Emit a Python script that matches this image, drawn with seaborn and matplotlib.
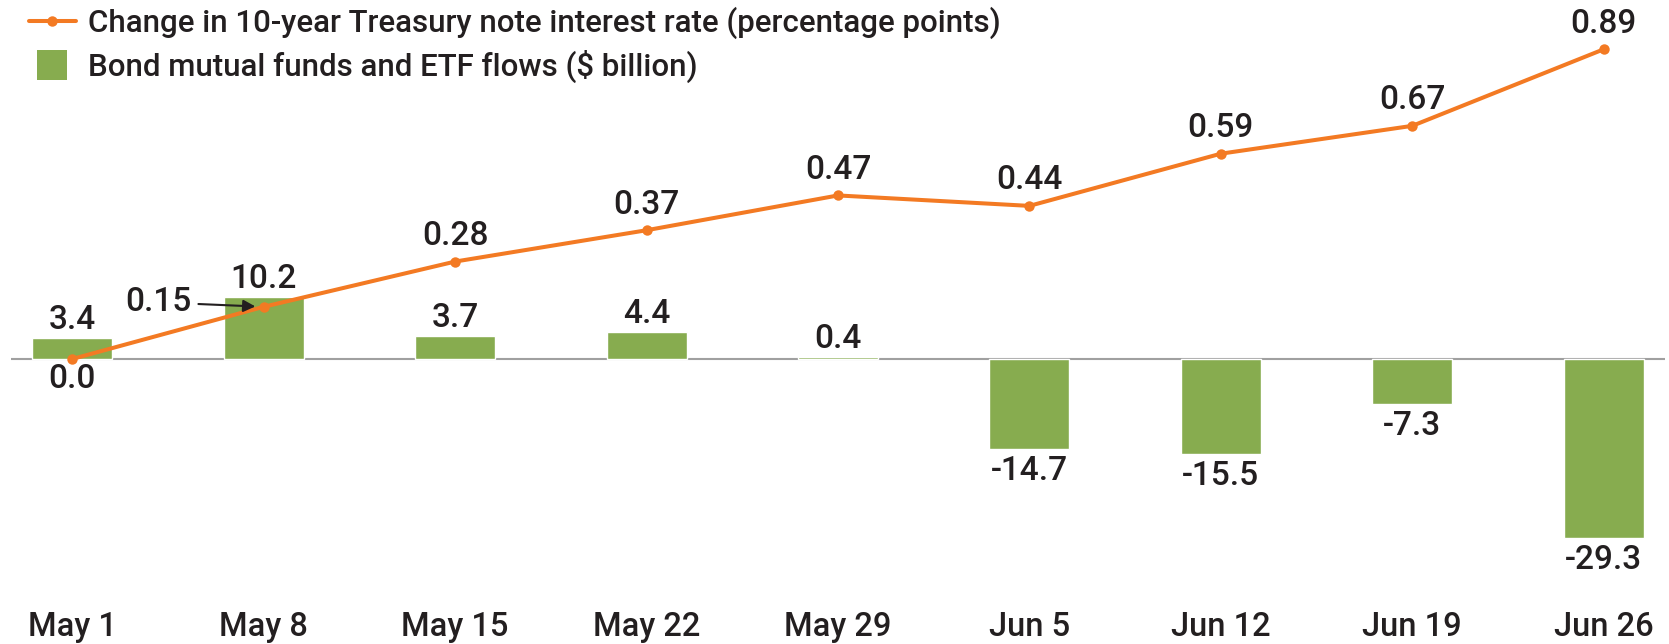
import numpy as np
import pandas as pd
import matplotlib
matplotlib.use("Agg")
import matplotlib.pyplot as plt
import seaborn as sns
from matplotlib.lines import Line2D

# ---- data ----
dates = ["May 1", "May 8", "May 15", "May 22", "May 29", "Jun 5", "Jun 12", "Jun 19", "Jun 26"]
flows = [3.4, 10.2, 3.7, 4.4, 0.4, -14.7, -15.5, -7.3, -29.3]
flow_labels = ["3.4", "10.2", "3.7", "4.4", "0.4", "-14.7", "-15.5", "-7.3", "-29.3"]
rate_change = [0.0, 0.15, 0.28, 0.37, 0.47, 0.44, 0.59, 0.67, 0.89]
rate_labels = ["0.0", "0.15", "0.28", "0.37", "0.47", "0.44", "0.59", "0.67", "0.89"]
legend_line = "Change in 10-year Treasury note interest rate (percentage points)"
legend_bar = "Bond mutual funds and ETF flows ($ billion)"

ORANGE = "#F37A23"
GREEN = "#87AC4F"
TEXT = "#231F20"

sns.set_theme(style="white")
plt.rcParams["font.family"] = ["Roboto", "DejaVu Sans"]
plt.rcParams["font.weight"] = "medium"

LABEL_FS = 24
TICK_FS = 23.5
LEG_FS = 22.5

W, H = 1669, 644
fig = plt.figure(figsize=(W / 100, H / 100), dpi=100)
top_px, bot_px, zero_px = 40, 560, 359
ax = fig.add_axes([11 / W, 1 - bot_px / H, (1665 - 11) / W, (bot_px - top_px) / H])
ax2 = ax.twinx()

df = pd.DataFrame({"date": dates, "flow": flows})
sns.barplot(data=df, x="date", y="flow", color=GREEN, saturation=1, width=0.418, ax=ax, zorder=2)
ax.axhline(0, color="#A0A0A0", lw=1.5, zorder=1)

bar_scale = 6.1   # px per $bn
line_scale = 348  # px per pct point
ax.set_ylim(-(bot_px - zero_px) / bar_scale, (zero_px - top_px) / bar_scale)
ax2.set_ylim(-(bot_px - zero_px) / line_scale, (zero_px - top_px) / line_scale)

x = np.arange(len(dates))
sns.lineplot(x=x, y=rate_change, ax=ax2, color=ORANGE, lw=2.9, marker="o",
             markersize=7.5, markeredgewidth=0, zorder=3)
ax.set_xlim(-0.32, 8.32)
ax2.set_xlim(-0.32, 8.32)

# bar labels
for i, (v, lab) in enumerate(zip(flows, flow_labels)):
    off = 13 if v >= 0 else -16
    ax.annotate(lab, (i, v), xytext=(0, off), textcoords="offset points",
                ha="center", va="center", fontsize=LABEL_FS, color=TEXT)

# line labels
for i, (v, lab) in enumerate(zip(rate_change, rate_labels)):
    if i == 0:
        ax2.annotate(lab, (i, v), xytext=(0, -14.5), textcoords="offset points",
                     ha="center", va="center", fontsize=LABEL_FS, color=TEXT)
    elif i == 1:
        ax2.annotate(lab, (i, v), xytext=(-76, 3.5), textcoords="offset points",
                     ha="center", va="center", fontsize=LABEL_FS, color=TEXT)
        ax2.annotate("", xy=(i, v), xytext=(-47, 2), textcoords="offset points",
                     arrowprops=dict(arrowstyle="-|>", color=TEXT, lw=1.5,
                                     shrinkA=0, shrinkB=6, mutation_scale=18))
    else:
        ax2.annotate(lab, (i, v), xytext=(0, 18.5), textcoords="offset points",
                     ha="center", va="center", fontsize=LABEL_FS, color=TEXT)

for a in (ax, ax2):
    for s in a.spines.values():
        s.set_visible(False)
    a.set_yticks([])
    a.set_ylabel("")
    a.set_xlabel("")
ax2.set_xticks([])
ax.set_xticks(x)
ax.set_xticklabels(dates)
ax.tick_params(axis="x", length=0, pad=37, labelsize=TICK_FS, labelcolor=TEXT)

handles = [Line2D([0], [0], color=ORANGE, lw=2.9, marker="o", markersize=7.5, markeredgewidth=0),
           Line2D([0], [0], color=GREEN, lw=0, marker="s", markersize=21, markeredgewidth=0)]
fig.legend(handles, [legend_line, legend_bar], loc="upper left",
           bbox_to_anchor=(29 / W, 1 - 7 / H), borderpad=0, borderaxespad=0,
           frameon=False, fontsize=LEG_FS, handlelength=1.5,
           handletextpad=0.4, labelspacing=0.35, labelcolor=TEXT)

fig.savefig("out.png", dpi=100)
